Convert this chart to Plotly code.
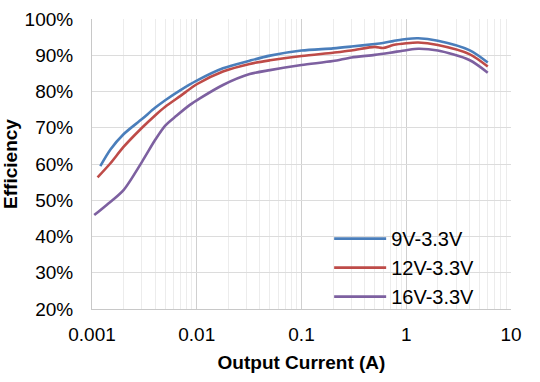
import plotly.graph_objects as go

current_9 = [0.0012, 0.0015, 0.002, 0.003, 0.004, 0.005, 0.007, 0.01, 0.0178, 0.032, 0.05, 0.1, 0.2, 0.3, 0.5, 0.6, 0.75, 1.0, 1.3, 2.0, 4.0, 6.0]
eff_9v = [59.4, 64.0, 68.2, 72.4, 75.5, 77.6, 80.4, 83.0, 86.4, 88.5, 89.9, 91.3, 91.9, 92.4, 93.1, 93.4, 93.9, 94.5, 94.7, 94.0, 91.4, 88.0]
current_12 = [0.00113, 0.0015, 0.002, 0.003, 0.004, 0.005, 0.007, 0.01, 0.0178, 0.032, 0.05, 0.1, 0.2, 0.3, 0.5, 0.6, 0.75, 1.0, 1.3, 2.0, 4.0, 6.0]
eff_12v = [56.3, 60.2, 64.7, 70.0, 73.4, 75.8, 78.8, 82.0, 85.5, 87.6, 88.6, 89.8, 90.7, 91.3, 92.3, 92.0, 92.8, 93.3, 93.5, 92.8, 90.3, 86.9]
current_16 = [0.00105, 0.00138, 0.002, 0.003, 0.004, 0.005, 0.0064, 0.0086, 0.0107, 0.0178, 0.032, 0.05, 0.1, 0.2, 0.3, 0.5, 0.7, 1.0, 1.3, 2.0, 4.0, 6.0]
eff_16v = [45.9, 48.7, 52.8, 60.6, 66.6, 70.6, 73.3, 76.3, 78.1, 81.8, 84.8, 85.9, 87.3, 88.4, 89.4, 90.1, 90.7, 91.4, 91.8, 91.3, 88.7, 85.2]

series_names = ["9V-3.3V", "12V-3.3V", "16V-3.3V"]
colors = ["#4a7ebb", "#be4b48", "#7d60a0"]

x_major = [0.001, 0.01, 0.1, 1, 10]
x_labels = ["0.001", "0.01", "0.1", "1", "10"]
x_minor = [m * d for d in [0.001, 0.01, 0.1, 1] for m in range(2, 10)]
y_ticks = [20, 30, 40, 50, 60, 70, 80, 90, 100]
y_labels = ["20%", "30%", "40%", "50%", "60%", "70%", "80%", "90%", "100%"]

fig = go.Figure()
for name, xs, ys, c in zip(series_names, [current_9, current_12, current_16], [eff_9v, eff_12v, eff_16v], colors):
    fig.add_trace(go.Scatter(x=xs, y=ys, mode="lines", name=name,
                             line=dict(color=c, width=2.6, shape="spline", smoothing=0.8)))

font_family = "Liberation Sans, Arial, sans-serif"
fig.update_layout(
    width=540, height=382,
    margin=dict(l=92, r=29, t=19, b=73),
    paper_bgcolor="white", plot_bgcolor="white",
    font=dict(family=font_family, size=19, color="black"),
    showlegend=True,
    legend=dict(x=0.566, y=0.31, xanchor="left", yanchor="top",
                bgcolor="rgba(0,0,0,0)", font=dict(size=20), itemwidth=52),
    xaxis=dict(type="log", range=[-3, 1], tickmode="array", tickvals=x_major, ticktext=x_labels,
               showgrid=True, gridcolor="#d0d0d0", gridwidth=1,
               minor=dict(tickmode="array", tickvals=x_minor, showgrid=True, gridcolor="#ececec", gridwidth=1, ticks=""),
               showline=True, linecolor="#c8c8c8", linewidth=1, mirror=False,
               ticks="", ticklabelstandoff=8, zeroline=False, automargin=False,
               title=dict(text="<b>Output Current (A)</b>", font=dict(size=19), standoff=11)),
    yaxis=dict(range=[20, 100], tickmode="array", tickvals=y_ticks, ticktext=y_labels,
               showgrid=True, gridcolor="#dcdcdc", gridwidth=1,
               showline=True, linecolor="#c8c8c8", linewidth=1,
               ticks="", ticklabelstandoff=14, zeroline=False, automargin=False,
               title=dict(text="<b>Efficiency</b>", font=dict(size=19), standoff=8)),
)

fig.write_html("out.html", config={"displayModeBar": False},
               post_script="document.body.style.margin='0';")
